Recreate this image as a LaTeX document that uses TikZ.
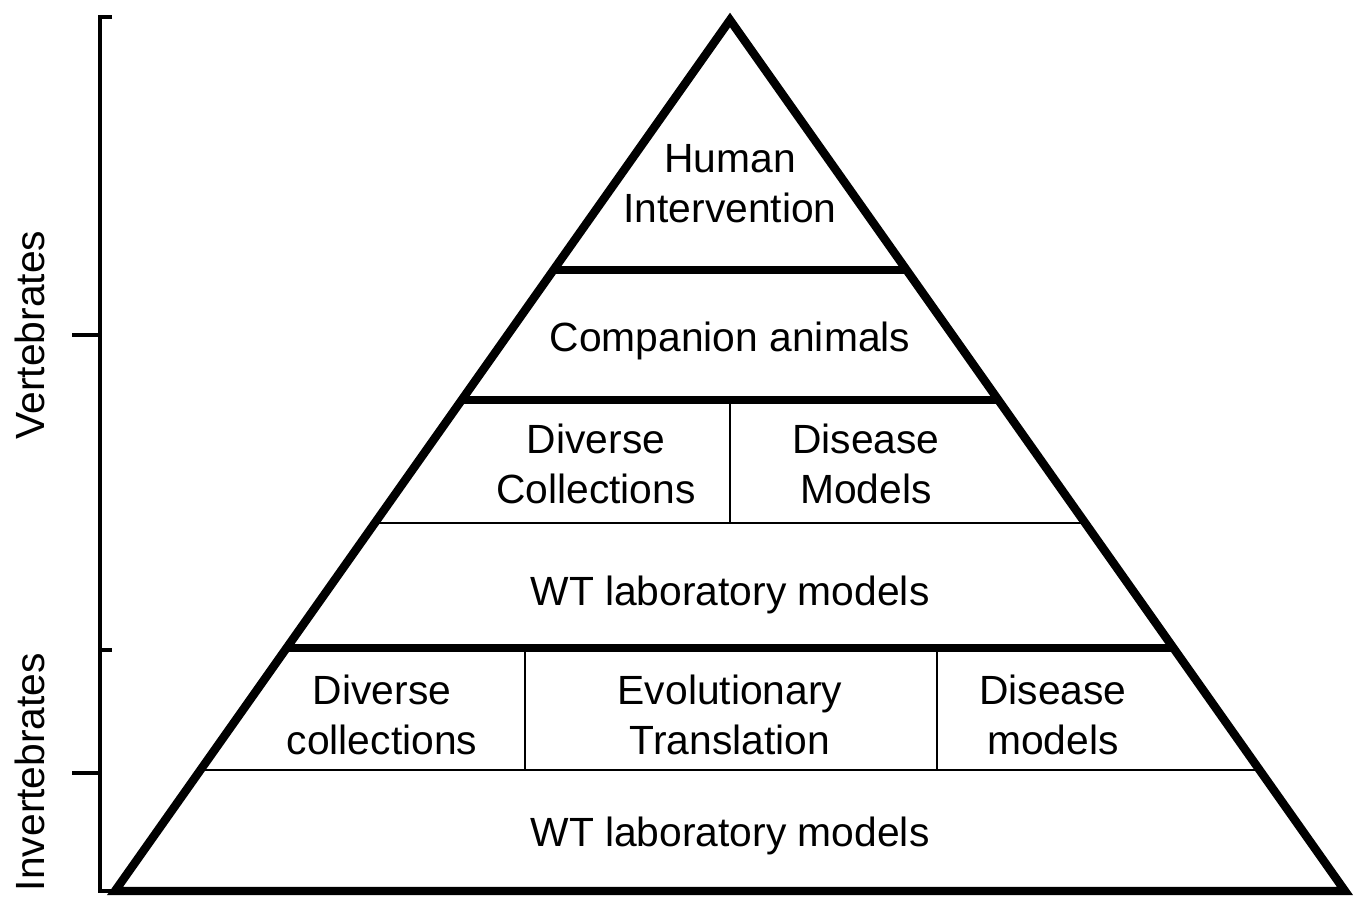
\documentclass[tikz,border=0pt]{standalone}
\usepackage{fontspec}
\setmainfont{Liberation Sans}
\tikzset{edge/.style={line width=2.4pt,line join=miter},
 sep/.style={line width=2.4pt},thinsep/.style={line width=.6pt},
 axis/.style={line width=.9pt},
 lbl/.style={align=center,inner sep=0pt,font=\fontsize{11.6}{14.2}\selectfont},
 side/.style={lbl,rotate=90}}
\begin{document}
\begin{tikzpicture}[x=.01cm,y=-.01cm]
\useasboundingbox (0,0) rectangle (1360,899);
% pyramid outline
\coordinate (apex) at (730,20);\coordinate (bl) at (115,891);\coordinate (br) at (1345,891);
\draw[edge] (apex)--(br)--(bl)--cycle;
% levels
\coordinate (a1) at (553,270);\coordinate (b1) at (907,270);
\coordinate (a2) at (461,400);\coordinate (b2) at (999,400);
\coordinate (a3) at (374,523);\coordinate (b3) at (1086,523);
\coordinate (a4) at (286,648);\coordinate (b4) at (1174,648);
\coordinate (a5) at (200,770);\coordinate (b5) at (1260,770);
\draw[sep] (a1)--(b1);\draw[sep] (a2)--(b2);\draw[sep] (a4)--(b4);
\draw[thinsep] (a3)--(b3);\draw[thinsep] (a5)--(b5);
\draw[thinsep] (730,400)--(730,523);
\draw[thinsep] (525,648)--(525,770);\draw[thinsep] (937,648)--(937,770);
% texts
\node[lbl] (hum) at (730,184) {Human\\Intervention};
\node[lbl] (comp) at (730,341) {Companion animals};
\node[lbl] (vdiv) at (596,464) {Diverse\\Collections};
\node[lbl] (vdis) at (866,464) {Disease\\Models};
\node[lbl] (vwt) at (730,595) {WT laboratory models};
\node[lbl] (idiv) at (382,715) {Diverse\\collections};
\node[lbl] (ievo) at (730,715) {Evolutionary\\Translation};
\node[lbl] (idis) at (1053,715) {Disease\\models};
\node[lbl] (iwt) at (730,836) {WT laboratory models};
% axis
\coordinate (atop) at (100,17);\coordinate (abot) at (100,891);
\draw[axis] (112,17)--(atop)--(abot)--(bl);
\draw[axis] (72,335)--(100,335);\draw[axis] (100,650)--(112,650);
\draw[axis] (72,773)--(100,773);
\node[side] (vert) at (30,335) {Vertebrates};
\node[side] (invert) at (30,772) {Invertebrates};
\end{tikzpicture}
\end{document}
